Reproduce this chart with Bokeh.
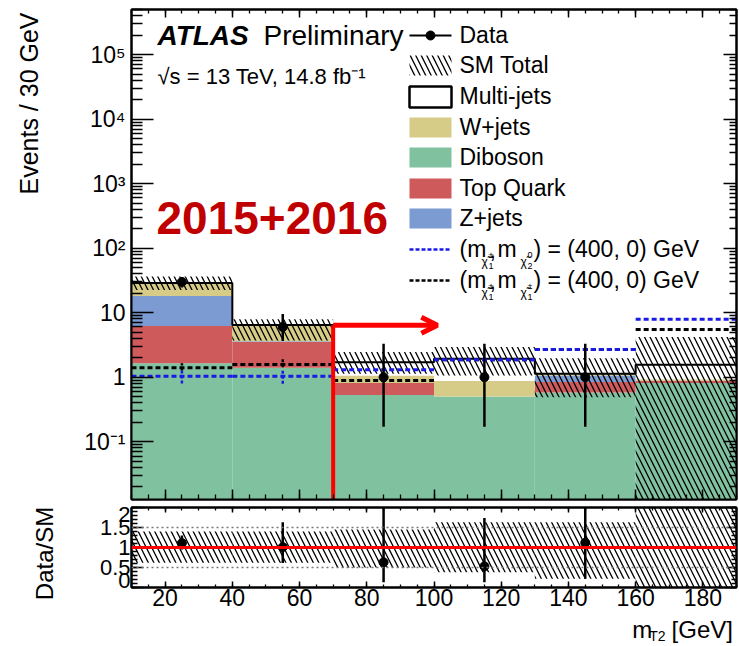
import numpy as np
from bokeh.plotting import figure
from bokeh.layouts import column, row
from bokeh.models import (FixedTicker, LinearAxis, LogAxis, Label,
                          BoxAnnotation, Arrow, OpenHead, Span)
from bokeh.embed import file_html
from bokeh.resources import INLINE

# ---------------- chart data ----------------
bin_edges   = [10, 40, 70, 100, 130, 160, 190]
diboson     = [1.65, 1.40, 0.53, 0.50, 0.58, 0.81]
top_quark   = [4.55, 2.12, 0.28, 0.00, 0.26, 0.07]
z_jets      = [12.0, 0.10, 0.00, 0.00, 0.22, 0.00]
w_jets      = [10.6, 2.80, 0.25, 0.37, 0.07, 0.05]
multi_jets  = [0.00, 0.00, 0.65, 1.07, 0.00, 0.63]
sm_band_lo  = [22.5, 3.70, 1.13, 1.06, 0.49, 0.001]
sm_band_hi  = [36.5, 7.90, 2.46, 2.94, 1.96, 4.20]

data_x      = [25, 55, 85, 115, 145]
data_y      = [30, 6, 1, 1, 1]
data_lo     = [24.6, 3.65, 0.17, 0.17, 0.17]
data_hi     = [35.9, 9.58, 3.30, 3.30, 3.30]

sig_c1n2    = [1.03, 1.03, 1.30, 1.87, 2.68, 7.90]
sig_c1c1    = [1.40, 1.58, 0.89, 1.87, 2.68, 5.50]
sig_err_x   = [25, 55]
c1n2_err_lo = [0.80, 0.79]
c1n2_err_hi = [1.27, 1.27]
c1c1_err_lo = [1.27, 1.43]
c1c1_err_hi = [1.65, 1.95]

ratio_y       = [1.11, 1.01, 0.63, 0.53, 1.12]
ratio_lo      = [0.95, 0.61, 0.13, 0.13, 0.22]
ratio_hi      = [1.30, 1.63, 2.60, 1.74, 2.60]
ratio_band_lo = [0.62, 0.62, 0.50, 0.38, 0.22, 0.00]
ratio_band_hi = [1.40, 1.40, 1.45, 1.63, 1.63, 2.50]

mt2_cut     = 70
arrow_level = 6.4
arrow_tip   = 101

x_ticks        = [20, 40, 60, 80, 100, 120, 140, 160, 180]
x_minor        = list(range(10, 191, 5))
y_ticks        = [1e-1, 1e0, 1e1, 1e2, 1e3, 1e4, 1e5]
y_tick_labels  = ["10\u207b\u00b9", "1", "10", "10\u00b2", "10\u00b3", "10\u2074", "10\u2075"]
y_minor        = [m * 10.0 ** e for e in range(-2, 6) for m in range(2, 10)]
r_ticks        = [0, 0.5, 1, 1.5, 2]
r_tick_labels  = ["0", "0.5", "1", "1.5", "2"]
r_minor        = [round(0.1 * i, 1) for i in range(0, 21)]

# ---------------- layout geometry (page pixels) ----------------
PAGE_W, PAGE_H = 739, 645
STRIP_W = 60               # left strip holding the vertical axis titles
FL, FR = 131, 736          # frame left / right
MT, MB = 9, 499            # main frame top / bottom
RT, RB = 507, 587          # ratio frame top / bottom
R_END = 617                # bottom of ratio figure (x tick labels fit above)
XMIN, XMAX = 10, 190
LOG_T, LOG_B = 5.70, -1.896
YLO, YHI = 10 ** LOG_B, 10 ** LOG_T
FONT = "Liberation Sans"
# ROOT keeps the end labels of the ratio axis inside the frame
r_label_pos = [0.175, 0.5, 1, 1.5, 1.825]

def mx(px):
    return XMIN + (px - FL) * (XMAX - XMIN) / (FR - FL)

def my(py):
    return 10 ** (LOG_T - (py - MT) * (LOG_T - LOG_B) / (MB - MT))

def ident(v):
    return v

W = PAGE_W - STRIP_W
H_MAIN = MB + 4
H_RATIO = R_END - H_MAIN

def style_axis(ax, maj_in, min_in, ticks, minor, labels=None, size="23px", standoff=6):
    ax.ticker = FixedTicker(ticks=ticks, minor_ticks=minor)
    ax.major_tick_in = maj_in
    ax.major_tick_out = 0
    ax.minor_tick_in = min_in
    ax.minor_tick_out = 0
    ax.major_tick_line_width = 1.5
    ax.minor_tick_line_width = 1.3
    ax.axis_line_width = 2
    ax.major_label_standoff = standoff
    if labels is None:
        ax.major_label_overrides = {t: "" for t in ticks}
        ax.major_label_text_font_size = "1px"
        ax.major_label_standoff = 0
    else:
        ax.major_label_text_font_size = size
        ax.major_label_text_font = FONT
        ax.major_label_text_color = "black"
        ax.major_label_overrides = labels

def lab(fig, px, py, text, size, fx=mx, fy=my, angle=0.0, **kw):
    """Text whose baseline starts at page pixel (px, py)."""
    off = 0.36 * size
    if angle == 0.0:
        cx, cy = px, py - off
    else:
        cx, cy = px - off, py
    opts = dict(text_font=FONT, text_font_size=f"{size}px", text_color="black",
                text_baseline="middle", text_align="left", angle=angle)
    opts.update(kw)
    fig.add_layout(Label(x=fx(cx), y=fy(cy), text=text, **opts))

# ================= main panel =================
p = figure(width=W, height=H_MAIN, x_range=(XMIN, XMAX), y_range=(YLO, YHI),
           y_axis_type="log", output_backend="svg", toolbar_location=None,
           min_border_left=FL - STRIP_W, min_border_right=PAGE_W - FR,
           min_border_top=MT, min_border_bottom=H_MAIN - MB)
p.grid.visible = False
p.outline_line_color = "black"
p.outline_line_width = 2

style_axis(p.xaxis[0], 10, 5, x_ticks, x_minor)
style_axis(p.yaxis[0], 22, 11, y_ticks, y_minor,
           labels={t: l for t, l in zip(y_ticks, y_tick_labels)}, size="23px", standoff=6)
ax_top = LinearAxis()
style_axis(ax_top, 8, 4, x_ticks, x_minor)
p.add_layout(ax_top, "above")
ax_right = LogAxis()
style_axis(ax_right, 13, 7, y_ticks, y_minor)
p.add_layout(ax_right, "right")

left = np.array(bin_edges[:-1], dtype=float)
right = np.array(bin_edges[1:], dtype=float)
layers = [(diboson, "#80c2a0"), (top_quark, "#cf5a5b"), (z_jets, "#7b9bd2"),
          (w_jets, "#d6cc87"), (multi_jets, "white")]
cum = np.zeros(len(left))
for vals, col in layers:
    vals = np.array(vals, dtype=float)
    new = cum + vals
    m = vals > 0
    bot = np.where(cum > 0, cum, YLO * 0.1)
    p.quad(left=left[m], right=right[m], bottom=bot[m], top=new[m],
           fill_color=col, line_color=None)
    cum = new
total = cum

# SM total outline (step)
step_x = np.repeat(np.array(bin_edges, dtype=float), 2)[1:-1]
step_y = np.repeat(total, 2)
p.line(step_x, step_y, line_color="black", line_width=2)

# SM uncertainty hatch
p.quad(left=left, right=right, bottom=sm_band_lo, top=sm_band_hi,
       fill_color=None, line_color=None, hatch_pattern="\\",
       hatch_color="black", hatch_scale=11, hatch_weight=1.3)

# signals
p.segment(x0=left, x1=right, y0=sig_c1c1, y1=sig_c1c1, line_color="black",
          line_width=3, line_dash="5 3")
p.segment(x0=sig_err_x, x1=sig_err_x, y0=c1c1_err_lo, y1=c1c1_err_hi,
          line_color="black", line_width=2.5, line_dash="3 2")
p.segment(x0=left, x1=right, y0=sig_c1n2, y1=sig_c1n2, line_color="#1a1ae6",
          line_width=3, line_dash="5 3")
p.segment(x0=sig_err_x, x1=sig_err_x, y0=c1n2_err_lo, y1=c1n2_err_hi,
          line_color="#1a1ae6", line_width=2.5, line_dash="3 2")

# cut line and arrow
p.segment(x0=[mt2_cut], x1=[mt2_cut], y0=[YLO * 0.1], y1=[arrow_level],
          line_color="red", line_width=4)
p.add_layout(Arrow(x_start=mt2_cut, y_start=arrow_level, x_end=arrow_tip, y_end=arrow_level,
                   line_color="red", line_width=5,
                   end=OpenHead(line_color="red", line_width=5, size=16)))

# data
p.segment(x0=data_x, x1=data_x, y0=data_lo, y1=data_hi, line_color="black", line_width=2.5)
p.scatter(data_x, data_y, size=9, color="black")

lab(p, 157, 45, "ATLAS", 28, text_font_style="bold italic")
lab(p, 263, 45, "Preliminary", 28)
lab(p, 157, 84, "\u221as = 13 TeV, 14.8 fb\u207b\u00b9", 22)
lab(p, 156, 234, "2015+2016", 46, text_font_style="bold", text_color="#c00000")

# legend (manual, ROOT style)
SX0, SX1, TX = 409, 451, 459
rows = [35, 65, 96, 127, 157, 188, 218, 249, 280]
p.add_layout(Arrow(x_start=mx(SX0), y_start=my(rows[0]), x_end=mx(SX1), y_end=my(rows[0]),
                   end=None, line_color="black", line_width=2))
p.scatter([mx(430)], [my(rows[0])], size=9, color="black")
p.add_layout(BoxAnnotation(left=mx(SX0), right=mx(SX1), bottom=my(rows[1] + 10), top=my(rows[1] - 10),
                           fill_color=None, fill_alpha=0, line_color=None, hatch_pattern="\\",
                           hatch_color="black", hatch_alpha=1, hatch_scale=11, hatch_weight=1.3))
p.add_layout(BoxAnnotation(left=mx(SX0), right=mx(SX1), bottom=my(rows[2] + 11), top=my(rows[2] - 10),
                           fill_color="white", fill_alpha=1, line_color="black", line_alpha=1,
                           line_width=2.5))
for r, (vals, col) in zip(rows[3:7], [layers[3], layers[0], layers[1], layers[2]]):
    p.add_layout(BoxAnnotation(left=mx(SX0), right=mx(SX1), bottom=my(r + 10), top=my(r - 10),
                               fill_color=col, fill_alpha=1, line_color=None))
for r, col in [(rows[7], "#1a1ae6"), (rows[8], "black")]:
    p.add_layout(Arrow(x_start=mx(SX0), y_start=my(r), x_end=mx(SX1), y_end=my(r),
                       end=None, line_color=col, line_width=2.5, line_dash="4 2"))

for r, t in zip(rows[:7], ["Data", "SM Total", "Multi-jets", "W+jets", "Diboson", "Top Quark", "Z+jets"]):
    lab(p, TX, r + 8, t, 23)

for r, sub1, sub2 in [(rows[7], ("\u00b1", "1"), ("0", "2")), (rows[8], ("\u00b1", "1"), ("\u00b1", "1"))]:
    b = r + 8
    lab(p, TX, b, "(m", 23)
    lab(p, 489, b, ",", 23)
    lab(p, 497, b, "m", 23)
    lab(p, 533, b, ") = (400, 0) GeV", 23)
    for x0, (sup, sub) in [(481, sub1), (520, sub2)]:
        lab(p, x0, b + 9, "\u03c7\u0303", 12)
        lab(p, x0 + 7, b + 1, sup, 9)
        lab(p, x0 + 7, b + 12, sub, 9)

# ================= ratio panel =================
p2 = figure(width=W, height=H_RATIO, x_range=p.x_range, y_range=(0, 2),
            output_backend="svg", toolbar_location=None,
            min_border_left=FL - STRIP_W, min_border_right=PAGE_W - FR,
            min_border_top=RT - H_MAIN, min_border_bottom=R_END - RB)
p2.grid.visible = False
p2.outline_line_color = "black"
p2.outline_line_width = 2

style_axis(p2.xaxis[0], 6, 3, x_ticks, x_minor,
           labels={t: str(t) for t in x_ticks}, size="23px", standoff=1)
style_axis(p2.yaxis[0], 12, 6, r_ticks, r_minor)
ax_rlab = LinearAxis()
style_axis(ax_rlab, 0, 0, r_label_pos, [],
           labels={t: l for t, l in zip(r_label_pos, r_tick_labels)}, size="22px", standoff=1)
ax_rlab.axis_line_color = None
ax_rlab.major_tick_line_color = None
ax_rlab.minor_tick_line_color = None
p2.add_layout(ax_rlab, "left")
ax_top2 = LinearAxis()
style_axis(ax_top2, 5, 3, x_ticks, x_minor)
p2.add_layout(ax_top2, "above")
ax_right2 = LinearAxis()
style_axis(ax_right2, 10, 5, r_ticks, r_minor)
p2.add_layout(ax_right2, "right")

p2.quad(left=left, right=right, bottom=ratio_band_lo, top=ratio_band_hi,
        fill_color=None, line_color=None, hatch_pattern="\\",
        hatch_color="black", hatch_scale=11, hatch_weight=1.3)
for lvl in (0.5, 1.5):
    p2.add_layout(Span(location=lvl, dimension="width", line_color="#777777",
                       line_width=1.5, line_dash="2 3"))
p2.add_layout(Span(location=1, dimension="width", line_color="red", line_width=3))
p2.segment(x0=data_x, x1=data_x, y0=ratio_lo, y1=ratio_hi, line_color="black", line_width=2.5)
p2.scatter(data_x, ratio_y, size=9, color="black")

# ================= title strips (page-pixel coordinates) =================
def strip(width, height, x0, y0):
    s = figure(width=width, height=height, x_range=(x0, x0 + width),
               y_range=(y0 + height, y0), x_axis_type=None, y_axis_type=None,
               output_backend="svg", toolbar_location=None, min_border=0)
    s.outline_line_color = None
    s.grid.visible = False
    return s

left_strip = strip(STRIP_W, PAGE_H, 0, 0)
lab(left_strip, 37, 12, "Events / 30 GeV", 25, fx=ident, fy=ident,
    angle=np.pi / 2, text_align="right")
lab(left_strip, 53, 553, "Data/SM", 24, fx=ident, fy=ident,
    angle=np.pi / 2, text_align="center")

bottom_strip = strip(W, PAGE_H - R_END, STRIP_W, R_END)
lab(bottom_strip, 622, 638, "m", 24, fx=ident, fy=ident)
lab(bottom_strip, 641, 641, "T2", 14, fx=ident, fy=ident)
lab(bottom_strip, 735, 638, "[GeV]", 24, fx=ident, fy=ident, text_align="right")

layout = row(left_strip, column(p, p2, bottom_strip, spacing=0), spacing=0)
open("out.html", "w").write(file_html(layout, INLINE))
